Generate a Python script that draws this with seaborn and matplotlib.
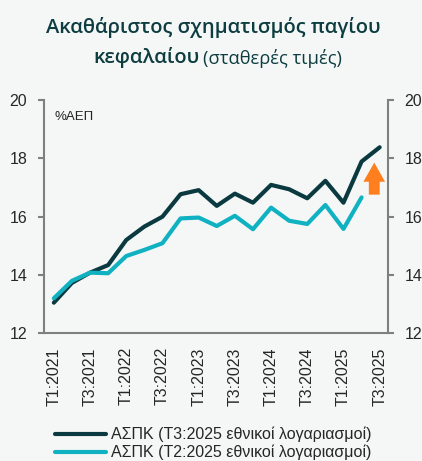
import numpy as np
import pandas as pd
import matplotlib
matplotlib.use("Agg")
import matplotlib.pyplot as plt
import seaborn as sns

# Δεδομένα (%ΑΕΠ), τριμηνιαία
quarters = ["Τ1:2021", "Τ2:2021", "Τ3:2021", "Τ4:2021",
            "Τ1:2022", "Τ2:2022", "Τ3:2022", "Τ4:2022",
            "Τ1:2023", "Τ2:2023", "Τ3:2023", "Τ4:2023",
            "Τ1:2024", "Τ2:2024", "Τ3:2024", "Τ4:2024",
            "Τ1:2025", "Τ2:2025", "Τ3:2025"]
gfcf_q3 = [13.05, 13.73, 14.08, 14.34, 15.20, 15.66, 16.00, 16.77, 16.91, 16.37,
           16.79, 16.48, 17.09, 16.94, 16.63, 17.23, 16.48, 17.89, 18.38]
gfcf_q2 = [13.20, 13.80, 14.08, 14.06, 14.65, 14.86, 15.09, 15.94, 15.97, 15.68,
           16.03, 15.57, 16.31, 15.86, 15.75, 16.40, 15.58, 16.66]
label_q3 = "ΑΣΠΚ (Τ3:2025 εθνικοί λογαριασμοί)"
label_q2 = "ΑΣΠΚ (Τ2:2025 εθνικοί λογαριασμοί)"
yticks = [12, 14, 16, 18, 20]

bg = "#f5f7f7"
dark = "#0a3a40"
teal = "#10b2c2"
orange = "#ff7f1e"
grey = "#7f7f7f"
title_col = "#0d3d40"

sns.set_style("white")
plt.rcParams["font.family"] = ["Liberation Sans", "DejaVu Sans"]

df = pd.DataFrame({
    "idx": list(range(len(gfcf_q3))) + list(range(len(gfcf_q2))),
    "value": gfcf_q3 + gfcf_q2,
    "series": [label_q3] * len(gfcf_q3) + [label_q2] * len(gfcf_q2),
})

fig = plt.figure(figsize=(4.22, 4.61), dpi=100, facecolor=bg)
ax = fig.add_axes([0.104, 0.277, 0.815, 0.506])
ax.set_facecolor(bg)

sns.lineplot(data=df, x="idx", y="value", hue="series",
             palette={label_q3: dark, label_q2: teal}, linewidth=3.0,
             ax=ax, legend=False)

ax.set_xlim(-0.55, 18.45)
ax.set_ylim(12, 20)
ax.set_yticks(yticks)
ax.set_xticks(range(0, len(quarters), 2))
ax.set_xticklabels(quarters[::2], rotation=90)
ax.set_xlabel("")
ax.set_ylabel("")

for s in ["top", "right"]:
    ax.spines[s].set_visible(False)
for s in ["left", "bottom"]:
    ax.spines[s].set_color(grey)
    ax.spines[s].set_linewidth(1.5)
ax.tick_params(axis="y", length=4, width=1.5, color=grey, pad=8, labelsize=11.5)
ax.tick_params(axis="x", length=0, pad=10, labelsize=11.5)

ax2 = ax.twinx()
ax2.set_ylim(12, 20)
ax2.set_yticks(yticks)
for s in ["top", "left", "bottom"]:
    ax2.spines[s].set_visible(False)
ax2.spines["right"].set_color(grey)
ax2.spines["right"].set_linewidth(1.5)
ax2.tick_params(axis="y", length=4, width=1.5, color=grey, pad=8, labelsize=11.5)

# βέλος αναθεώρησης
ax.annotate("", xy=(17.7, 17.95), xytext=(17.7, 16.66),
            arrowprops=dict(arrowstyle="simple,head_length=1.15,head_width=1.3,tail_width=0.65",
                            color=orange, lw=0, mutation_scale=12))

ax.text(0.03, 0.955, "%ΑΕΠ", transform=ax.transAxes, fontsize=9.5,
        ha="left", va="top", color="#222222")

# τίτλος
fig.text(0.505, 0.94, "Ακαθάριστος σχηματισμός παγίου", ha="center", va="center",
         fontsize=14.5, fontweight="semibold", color=title_col, family="Open Sans")
fig.text(0.474, 0.876, "κεφαλαίου", ha="right", va="center",
         fontsize=14.5, fontweight="semibold", color=title_col, family="Open Sans")
fig.text(0.482, 0.874, "(σταθερές τιμές)", ha="left", va="center",
         fontsize=13.2, color=title_col, family="Open Sans")

handles = [plt.Line2D([], [], color=dark, lw=3.0),
           plt.Line2D([], [], color=teal, lw=3.0)]
fig.legend(handles, [label_q3, label_q2], loc="lower left",
           bbox_to_anchor=(0.115, -0.012), frameon=False, fontsize=11.5,
           handlelength=3.2, handletextpad=0.3, labelspacing=0.15,
           borderaxespad=0)

fig.savefig("out.png", dpi=100, facecolor=bg)
